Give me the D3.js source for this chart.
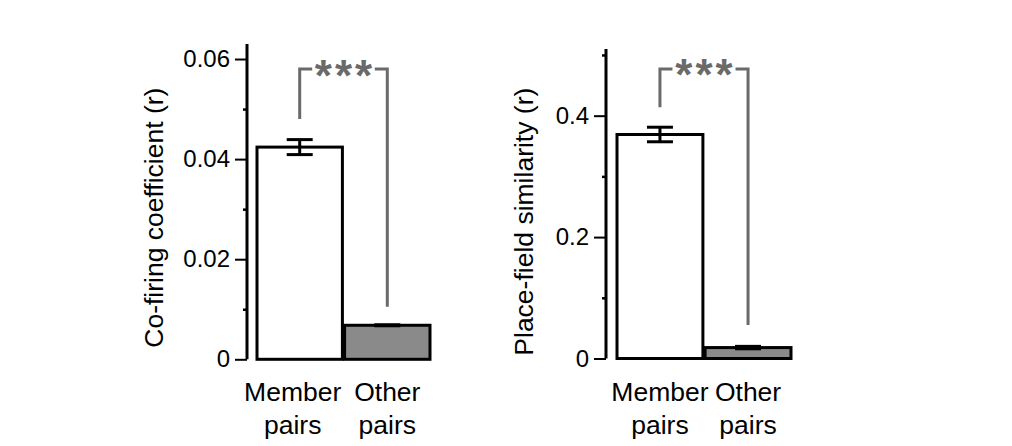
<!DOCTYPE html>
<html>
<head>
<meta charset="utf-8">
<script src="https://cdn.jsdelivr.net/npm/d3@7"></script>
<style>
  html, body { margin: 0; padding: 0; background: #fff; }
  svg { display: block; }
  text { font-family: "Liberation Sans", Arial, sans-serif; fill: #000; }
</style>
</head>
<body>
<svg id="chart" width="1012" height="446"></svg>
<script>
// ---- data ----
const categories = ["Member pairs", "Other pairs"];
const cofiringValues = [0.0424, 0.0068];
const cofiringErrors = [0.0015, 0.0001];
const similarityValues = [0.369, 0.018];
const similarityErrors = [0.012, 0.002];
const cofiringTicks = [0, 0.02, 0.04, 0.06];
const cofiringMinorTicks = [0.01, 0.03, 0.05];
const similarityTicks = [0, 0.2, 0.4];
const similarityMinorTicks = [0.1, 0.3, 0.5];
const cofiringTickLabels = ["0", "0.02", "0.04", "0.06"];
const similarityTickLabels = ["0", "0.2", "0.4"];
const yLabels = ["Co-firing coefficient (r)", "Place-field similarity (r)"];
const significance = ["***", "***"];
// bracket ends: [left leg bottom, right leg bottom, top]
const cofiringBracket = [0.048, 0.0105, 0.058];
const similarityBracket = [0.414, 0.055, 0.477];
const yMax = [0.063, 0.51];

const svg = d3.select("#chart");
const FONT = 24;
const LABEL_FONT = 26.5;
const fills = ["#ffffff", "#8a8a8a"];
const GRAY = "#6a6a6a";

const panels = [
  { axisX: 247, y0: 359.3, yTop: 44, band: [257, 430], values: cofiringValues, errors: cofiringErrors,
    ticks: cofiringTicks, minor: cofiringMinorTicks, labels: cofiringTickLabels, yLabel: yLabels[0],
    labelX: 163, labelDY: 16, xLabelShift: [-7, 0], bracket: cofiringBracket, sig: significance[0], max: yMax[0] },
  { axisX: 606, y0: 358.5, yTop: 48.9, band: [617, 791], values: similarityValues, errors: similarityErrors,
    ticks: similarityTicks, minor: similarityMinorTicks, labels: similarityTickLabels, yLabel: yLabels[1],
    labelX: 533, labelDY: 18, xLabelShift: [0, 0], bracket: similarityBracket, sig: significance[1], max: yMax[1] }
];

panels.forEach(p => {
  const g = svg.append("g");
  const y = d3.scaleLinear().domain([0, p.max]).range([p.y0, p.yTop]);
  const x = d3.scaleBand().domain(categories).range(p.band).paddingInner(0.025);

  // bars
  g.selectAll("rect.bar").data(categories).enter().append("rect")
    .attr("class", "bar")
    .attr("x", d => x(d))
    .attr("width", x.bandwidth())
    .attr("y", (d, i) => y(p.values[i]))
    .attr("height", (d, i) => y(0) - y(p.values[i]))
    .attr("fill", (d, i) => fills[i])
    .attr("stroke", "#000")
    .attr("stroke-width", 3);

  // error bars
  const capW = 26;
  categories.forEach((c, i) => {
    const cx = x(c) + x.bandwidth() / 2;
    const hi = y(p.values[i] + p.errors[i]);
    const lo = y(p.values[i] - p.errors[i]);
    g.append("line").attr("x1", cx).attr("x2", cx).attr("y1", hi).attr("y2", lo)
      .attr("stroke", "#000").attr("stroke-width", 3);
    [hi, lo].forEach(yy => {
      g.append("line").attr("x1", cx - capW / 2).attr("x2", cx + capW / 2)
        .attr("y1", yy).attr("y2", yy).attr("stroke", "#000").attr("stroke-width", 3);
    });
  });

  // axis
  const axis = d3.axisLeft(y).tickValues(p.ticks).tickSize(12).tickSizeOuter(0).tickPadding(5)
    .tickFormat((d, i) => p.labels[i]);
  const ag = g.append("g").attr("transform", `translate(${p.axisX},0)`).call(axis);
  ag.select(".domain").attr("stroke-width", 3).attr("d", `M0,${y(0)}V${y(p.max)}`);
  ag.selectAll(".tick line").attr("stroke-width", 2);
  ag.selectAll(".tick text").style("font-size", FONT + "px").style("font-family", '"Liberation Sans", Arial, sans-serif');
  const minorAxis = d3.axisLeft(y).tickValues(p.minor).tickSize(4).tickFormat("");
  const mg = g.append("g").attr("transform", `translate(${p.axisX},0)`).call(minorAxis);
  mg.select(".domain").remove();
  mg.selectAll(".tick line").attr("stroke-width", 2.5);

  // y label
  g.append("text")
    .attr("transform", `translate(${p.labelX},${(y(0) + y(p.max)) / 2 + p.labelDY}) rotate(-90)`)
    .attr("text-anchor", "middle")
    .style("font-size", LABEL_FONT + "px")
    .text(p.yLabel);

  // x labels
  categories.forEach((c, i) => {
    const cx = x(c) + x.bandwidth() / 2 + p.xLabelShift[i];
    const words = c.split(" ");
    const t = g.append("text").attr("text-anchor", "middle").style("font-size", LABEL_FONT + "px");
    words.forEach((w, k) => {
      t.append("tspan").attr("x", cx).attr("y", 401 + k * 33).text(w);
    });
  });

  // significance bracket
  const lx = x(categories[0]) + x.bandwidth() / 2;
  const rx = x(categories[1]) + x.bandwidth() / 2;
  const top = y(p.bracket[2]);
  const seg = 12.5;
  g.append("path")
    .attr("d", `M${lx},${y(p.bracket[0])}V${top}H${lx + seg}`)
    .attr("fill", "none").attr("stroke", GRAY).attr("stroke-width", 3);
  g.append("path")
    .attr("d", `M${rx - seg},${top}H${rx}V${y(p.bracket[1])}`)
    .attr("fill", "none").attr("stroke", GRAY).attr("stroke-width", 3);
  g.append("text")
    .attr("x", (lx + rx) / 2 + 1.5)
    .attr("y", top + 21.5)
    .attr("text-anchor", "middle")
    .style("font-size", "44px")
    .style("font-weight", "bold")
    .style("letter-spacing", "3px")
    .style("fill", GRAY)
    .text(p.sig);
});
</script>
</body>
</html>
